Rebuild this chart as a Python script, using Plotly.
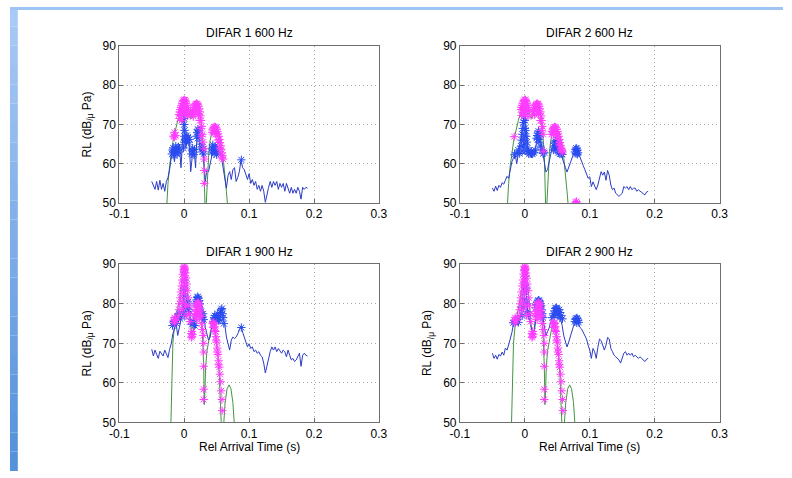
import numpy as np
import plotly.graph_objects as go

# ---------------- data ----------------
t_line = np.round(np.arange(97) * 0.0025 - 0.05, 4)

rl_d1_600 = [55.5, 54.5, 53.5, 55.5, 53.3, 55.8, 53.5, 55.0, 53.0, 55.5,
             56.5, 58.5, 61.5, 63.0, 60.5, 64.0, 62.0, 65.0, 59.0, 66.0,
             74.0, 64.0, 67.0, 66.0, 58.0, 62.0, 64.0, 59.0, 68.5, 67.0,
             63.0, 64.0, 61.0, 55.5, 58.5, 58.0, 60.0, 62.0, 64.0, 63.0,
             65.0, 62.5, 63.0, 61.5, 59.0, 57.0, 53.8, 57.0, 58.0, 56.0,
             58.5, 59.0, 55.5, 56.5, 58.0, 61.0, 59.0, 58.5, 57.0, 56.0,
             57.5, 55.0, 56.0, 54.5, 55.5, 53.5, 54.5, 53.0, 54.5, 53.0,
             50.2, 52.5, 54.0, 55.5, 54.0, 55.5, 54.5, 55.5, 53.5, 55.0,
             54.0, 55.0, 53.0, 55.0, 53.5, 52.5, 54.0, 52.5, 53.5, 52.5,
             54.0, 53.0, 51.0, 54.0, 53.5, 54.0, 53.8]

rl_d2_600 = [53.8, 53.0, 54.3, 53.2, 54.5, 54.0, 55.2, 54.8, 55.8, 56.8,
             56.3, 58.5, 60.5, 61.5, 62.5, 60.0, 62.8, 65.0, 68.0, 71.0,
             73.0, 68.0, 64.0, 62.5, 61.5, 63.5, 62.0, 65.0, 67.5, 68.0,
             65.5, 63.5, 60.0, 57.9, 58.5, 60.5, 62.5, 64.5, 65.0, 65.5,
             64.3, 63.5, 63.0, 61.5, 60.0, 59.0, 57.9, 59.0, 60.0, 61.0,
             62.5, 63.0, 63.3, 62.8, 61.5, 60.5, 59.5, 58.5, 57.5, 56.3,
             56.7, 54.2, 55.4, 54.2, 53.4, 54.6, 56.3, 58.0, 57.1, 57.9,
             55.8, 58.3, 57.1, 54.6, 53.4, 53.8, 52.5, 52.1, 51.7, 52.1,
             52.5, 54.2, 53.8, 54.2, 53.4, 54.2, 53.4, 53.8, 53.8, 53.0,
             53.4, 53.0, 52.8, 52.3, 52.1, 52.8, 53.0]

rl_d1_900 = [68.5, 66.8, 68.3, 67.0, 66.2, 68.0, 67.5, 66.8, 68.3, 67.5,
             66.4, 68.5, 69.9, 72.4, 74.0, 75.0, 72.0, 74.5, 76.0, 77.5,
             86.0, 82.0, 79.7, 78.5, 74.8, 75.5, 75.5, 73.8, 77.7, 81.4,
             80.5, 79.0, 77.3, 74.0, 72.4, 70.8, 71.6, 74.0, 76.5, 77.2,
             76.5, 77.0, 78.0, 79.0, 76.5, 74.8, 71.6, 69.5, 68.3, 70.8,
             71.6, 71.2, 71.6, 72.4, 73.6, 74.4, 72.8, 71.6, 70.8, 69.1,
             69.9, 68.7, 69.1, 67.9, 68.3, 67.5, 67.9, 67.0, 66.6, 65.0,
             62.5, 64.2, 66.6, 67.9, 69.1, 68.3, 69.1, 67.9, 68.7, 67.9,
             67.5, 68.3, 67.9, 66.6, 68.3, 67.0, 65.8, 66.2, 65.4, 65.8,
             66.6, 67.5, 64.2, 67.0, 67.5, 67.0, 66.8]

rl_d2_900 = [67.5, 66.2, 67.0, 66.0, 67.2, 66.8, 67.8, 67.0, 68.8, 68.3,
             69.6, 71.0, 72.7, 74.9, 75.5, 75.1, 74.5, 76.4, 78.5, 83.0,
             87.0, 82.0, 77.5, 75.5, 73.5, 72.3, 73.5, 77.5, 80.5, 80.9,
             80.0, 76.8, 74.4, 71.9, 73.0, 73.9, 75.5, 77.1, 77.9, 78.3,
             77.9, 77.5, 76.2, 74.5, 71.9, 70.3, 69.1, 70.3, 71.5, 73.1,
             74.4, 76.0, 76.0, 75.2, 74.0, 73.6, 72.7, 71.9, 71.1, 69.5,
             68.3, 66.2, 68.7, 67.9, 66.2, 69.0, 71.1, 70.7, 69.5, 68.3,
             69.5, 71.5, 71.1, 68.7, 67.9, 67.0, 66.6, 66.2, 65.8, 65.0,
             66.2, 67.5, 67.9, 67.0, 67.5, 67.0, 67.5, 66.6, 67.0, 66.6,
             66.2, 66.6, 66.2, 65.8, 65.4, 66.0, 66.2]

# model (green) curves
g600_t = [-0.030, -0.027, -0.025, -0.0225, -0.020, -0.0175, -0.015, -0.0125, -0.010, -0.0075,
          -0.005, -0.0025, 0.0, 0.0025, 0.005, 0.0075, 0.010, 0.0125, 0.015, 0.0175,
          0.020, 0.0225, 0.025, 0.0275, 0.030, 0.032, 0.033, 0.0335, 0.034, 0.036,
          0.038, 0.040, 0.0425, 0.045, 0.0475, 0.050, 0.0525, 0.055, 0.0575, 0.060,
          0.0625, 0.065, 0.0665, 0.068]
g600_v = [40, 50, 55, 59.5, 63, 65.5, 67.5, 69.5, 71, 72.5,
          74, 75.5, 76.3, 75.8, 74.5, 72.5, 71.5, 72.5, 74, 75,
          75.3, 74.5, 72, 68, 62, 50, 40, 40, 50, 58,
          63, 66, 68, 69, 69.4, 69, 68, 66.5, 64.5, 61.5,
          58, 53, 50, 40]

g900_t = [-0.022, -0.0205, -0.019, -0.0175, -0.015, -0.0125, -0.010, -0.0075, -0.005, -0.0025,
          0.0, 0.0025, 0.005, 0.0075, 0.010, 0.012, 0.014, 0.016, 0.018, 0.020,
          0.022, 0.024, 0.026, 0.028, 0.030, 0.031, 0.032, 0.033, 0.035, 0.038,
          0.041, 0.044, 0.046, 0.048, 0.050, 0.052, 0.054, 0.056, 0.058, 0.059,
          0.0595, 0.061, 0.063, 0.066, 0.069, 0.072, 0.075, 0.077, 0.078]
g900_v = [40, 50, 62, 70, 74.5, 76.5, 78.5, 81, 84, 87.5,
          89.3, 87.5, 83.5, 78.5, 74, 72, 73, 76, 78.5, 80,
          80.3, 79.5, 77, 72.5, 64, 54.5, 58, 64, 68, 71,
          73.5, 75, 75, 73, 70, 66.5, 62, 57, 50, 40,
          40, 50, 55, 58.5, 59.5, 58.5, 55, 50, 40]

# magenta star picks
m_d1_600_t = [-0.0165, -0.015, -0.0135, -0.015,
              -0.008, -0.007, -0.006, -0.005, -0.004, -0.003, -0.002, -0.001, 0.0, 0.001,
              0.002, 0.003, 0.004, 0.005, 0.006, 0.007, -0.007, -0.005, -0.003, -0.001,
              0.001, 0.003, 0.005, 0.0, -0.004,
              0.012, 0.013, 0.014, 0.015, 0.016, 0.017, 0.018, 0.019, 0.020, 0.021,
              0.022, 0.023, 0.024, 0.025, 0.026, 0.027, 0.028, 0.029, 0.014, 0.017,
              0.020, 0.022, 0.024, 0.026, 0.027,
              0.0305, 0.031, 0.031, 0.031,
              0.043, 0.044, 0.045, 0.046, 0.047, 0.048, 0.049, 0.050, 0.051, 0.052,
              0.053, 0.054, 0.055, 0.056, 0.057, 0.058, 0.059, 0.060, 0.046, 0.049,
              0.052, 0.055, 0.058]
m_d1_600_v = [67.0, 68.0, 67.2, 66.8,
              72.5, 73.2, 73.8, 74.3, 74.8, 75.3, 75.8, 76.1, 76.3, 76.2,
              75.9, 75.4, 74.9, 74.3, 73.5, 72.8, 71.5, 72.3, 73.0, 74.0,
              74.2, 73.3, 72.2, 72.5, 71.0,
              72.5, 73.2, 73.8, 74.3, 74.7, 75.0, 75.2, 75.3, 75.2, 75.0,
              74.6, 74.0, 73.2, 72.2, 71.0, 69.5, 67.5, 65.5, 72.0, 73.0,
              73.5, 72.5, 71.0, 69.0, 67.0,
              63.8, 61.2, 58.3, 55.0,
              68.0, 68.6, 69.0, 69.3, 69.4, 69.3, 69.1, 68.7, 68.2, 67.6,
              67.0, 66.2, 65.4, 64.6, 63.7, 62.8, 62.0, 61.2, 67.8, 67.5,
              66.0, 64.0, 61.5]

m_d2_600_t = [-0.0165,
              -0.006, -0.005, -0.004, -0.003, -0.002, -0.001, 0.0, 0.001, 0.002, 0.003,
              0.004, 0.005, 0.006, -0.005, -0.003, -0.001, 0.001, 0.003, 0.005, 0.0,
              0.012, 0.013, 0.014, 0.015, 0.016, 0.017, 0.018, 0.019, 0.020, 0.021,
              0.022, 0.023, 0.024, 0.025, 0.026, 0.027, 0.028, 0.015, 0.018, 0.021,
              0.024, 0.026,
              0.029,
              0.041, 0.042, 0.043, 0.044, 0.045, 0.046, 0.047, 0.048, 0.049, 0.050,
              0.051, 0.052, 0.053, 0.054, 0.055, 0.056, 0.057, 0.058, 0.044, 0.047,
              0.050, 0.053, 0.056,
              0.0785, 0.080, 0.0795]
m_d2_600_v = [66.9,
              73.8, 74.3, 74.8, 75.3, 75.8, 76.1, 76.3, 76.2, 75.9, 75.4,
              74.9, 74.3, 73.5, 72.3, 73.0, 74.0, 74.2, 73.3, 72.0, 72.5,
              72.5, 73.2, 73.8, 74.3, 74.7, 75.0, 75.2, 75.3, 75.2, 75.0,
              74.6, 74.0, 73.2, 72.2, 71.0, 69.5, 67.5, 72.5, 73.5, 72.8,
              71.0, 68.5,
              63.2,
              67.5, 68.2, 68.6, 69.0, 69.3, 69.4, 69.3, 69.1, 68.7, 68.2,
              67.6, 67.0, 66.2, 65.4, 64.6, 63.9, 63.4, 63.0, 67.5, 67.8,
              66.8, 65.0, 63.5,
              50.2, 50.0, 50.4]

m_900_t = [-0.016, -0.015, -0.014, -0.015, -0.013,
           -0.007, -0.006, -0.005, -0.004, -0.003, -0.002, -0.001, 0.0, 0.001, 0.002,
           0.003, 0.004, 0.005, 0.006, 0.007, -0.008, -0.009, 0.008, 0.009, 0.0,
           -0.001, 0.001, 0.0, -0.002, 0.002, -0.003, 0.003, 0.0, -0.0005, 0.0005,
           0.011, 0.012, 0.013, 0.012, 0.011,
           0.016, 0.017, 0.018, 0.019, 0.020, 0.021, 0.022, 0.023, 0.024, 0.025,
           0.026, 0.027, 0.028, 0.018, 0.020, 0.022, 0.024, 0.019, 0.021,
           0.0295, 0.030, 0.030, 0.030, 0.030, 0.030,
           0.044, 0.045, 0.046, 0.047, 0.048, 0.049, 0.050, 0.051, 0.052, 0.053,
           0.054, 0.055, 0.056, 0.057, 0.058, 0.0585, 0.045, 0.047, 0.049, 0.051,
           0.053]
m_900_v = [75.8, 76.5, 76.0, 75.2, 75.8,
           80.0, 81.5, 83.0, 84.5, 86.0, 87.5, 88.6, 89.3, 88.8, 87.8,
           86.5, 85.0, 83.3, 81.5, 79.5, 78.5, 77.0, 77.5, 75.5, 87.0,
           85.5, 84.0, 82.5, 80.5, 79.5, 78.5, 77.0, 88.5, 89.5, 89.0,
           72.5, 71.8, 72.3, 73.0, 71.5,
           77.0, 78.0, 79.0, 79.7, 80.1, 80.3, 80.2, 79.8, 79.0, 78.0,
           76.8, 75.0, 73.5, 77.5, 78.5, 78.5, 77.0, 76.0, 77.0,
           72.0, 70.0, 67.8, 64.2, 58.4, 55.8,
           75.0, 75.3, 75.0, 74.2, 73.0, 71.7, 70.3, 68.8, 67.2, 65.6,
           64.0, 62.2, 60.3, 58.0, 55.8, 53.0, 74.0, 73.2, 70.8, 67.8,
           64.6]

# blue star picks
b_d1_600_t = [-0.019, -0.018, -0.017, -0.016, -0.015, -0.014, -0.013, -0.012, -0.011, -0.010,
              -0.009, -0.008,
              -0.001, 0.0, 0.0, 0.0005, 0.0, 0.0, 0.0, -0.0005, 0.001,
              0.003, 0.004, 0.005, 0.006, 0.007, 0.008,
              0.011, 0.012, 0.013, 0.014, 0.015, 0.016,
              0.019, 0.020, 0.021, 0.022, 0.023, 0.021,
              0.026, 0.027, 0.028, 0.029, 0.030,
              0.042, 0.043, 0.044, 0.045, 0.046, 0.047, 0.048, 0.049, 0.050, 0.051,
              0.088]
b_d1_600_v = [62.5, 63.5, 64.0, 63.0, 62.0, 63.2, 64.5, 63.8, 62.5, 63.5,
              64.3, 63.0,
              64.0, 65.5, 67.0, 68.5, 70.0, 71.5, 73.0, 74.0, 66.0,
              66.5, 67.2, 66.0, 66.8, 65.5, 66.2,
              62.5, 63.5, 64.0, 63.0, 62.3, 63.6,
              67.0, 68.0, 68.8, 68.5, 67.5, 66.5,
              65.0, 64.0, 63.0, 63.8, 62.5,
              63.0, 64.0, 64.8, 63.5, 62.5, 63.8, 64.5, 63.2, 62.3, 63.0,
              61.0]

b_d2_600_t = [-0.016, -0.012, -0.010, -0.008, -0.006, -0.005, -0.004, -0.003, -0.002, -0.001,
              0.0, 0.0, 0.001, 0.002, 0.003, 0.004, 0.005, 0.006, 0.008, 0.010,
              0.012, 0.014, 0.016, -0.004, -0.002, 0.002, 0.0, 0.0, 0.0, -0.001,
              0.018, 0.019, 0.020, 0.021, 0.022, 0.023, 0.020, 0.022, 0.024, 0.026,
              0.028, 0.030,
              0.044, 0.045, 0.046, 0.047, 0.048, 0.049, 0.050, 0.051, 0.052, 0.054,
              0.056, 0.058, 0.047, 0.050,
              0.077, 0.078, 0.079, 0.080, 0.081, 0.082, 0.079, 0.081]
b_d2_600_v = [62.3, 62.8, 63.5, 62.6, 64.5, 66.0, 67.5, 69.0, 70.5, 72.0,
              73.5, 71.0, 68.5, 67.0, 65.5, 64.0, 63.0, 62.5, 62.7, 63.2,
              62.5, 62.8, 63.5, 63.2, 64.5, 63.3, 65.0, 67.0, 69.0, 66.0,
              66.5, 67.2, 67.8, 68.3, 67.6, 66.8, 66.2, 65.5, 64.5, 63.5,
              62.6, 62.8,
              63.5, 64.5, 65.3, 65.8, 65.5, 64.8, 64.0, 63.3, 62.8, 62.5,
              62.6, 62.4, 63.8, 66.0,
              63.0, 63.6, 64.0, 63.8, 63.4, 62.8, 62.6, 62.4]

b_d1_900_t = [-0.018, -0.016, -0.014, -0.012, -0.010, -0.008, -0.006,
              -0.002, -0.001, 0.0, 0.0, 0.001, 0.0, 0.002, 0.001,
              0.005, 0.006, 0.007, 0.008,
              0.010, 0.012, 0.014, 0.016,
              0.018, 0.019, 0.020, 0.021, 0.022, 0.023, 0.024, 0.021,
              0.026, 0.027, 0.028, 0.029, 0.030,
              0.045, 0.046, 0.047, 0.048, 0.049, 0.050, 0.051, 0.052, 0.053, 0.054,
              0.055, 0.056, 0.057, 0.058, 0.059, 0.060, 0.061,
              0.088]
b_d1_900_v = [74.5, 75.5, 76.0, 75.0, 76.8, 77.5, 76.2,
              78.0, 80.0, 82.0, 84.0, 86.0, 88.0, 79.0, 77.0,
              79.5, 80.5, 78.5, 77.5,
              75.5, 74.8, 75.6, 74.5,
              80.0, 81.0, 81.6, 81.8, 81.4, 80.8, 80.0, 80.5,
              78.0, 77.0, 76.5, 77.5, 76.0,
              75.5, 76.5, 77.0, 76.3, 75.5, 76.8, 77.5, 76.5, 75.8, 76.0,
              77.0, 77.8, 78.5, 78.8, 77.5, 76.5, 75.0,
              74.0]

b_d2_900_t = [-0.018, -0.016, -0.014, -0.012, -0.010,
              -0.004, -0.002, -0.001, 0.0, 0.0, 0.001, 0.0, 0.003, 0.004, 0.006, 0.002,
              0.017, 0.018, 0.019, 0.020, 0.021, 0.022, 0.023, 0.024, 0.025, 0.026,
              0.027, 0.028, 0.020, 0.023,
              0.042, 0.044, 0.046, 0.047, 0.048, 0.049, 0.050, 0.051, 0.052, 0.053,
              0.054, 0.056, 0.058, 0.046, 0.050, 0.054,
              0.077, 0.078, 0.079, 0.080, 0.081, 0.082, 0.083, 0.080]
b_d2_900_v = [75.2, 75.8, 75.5, 76.0, 75.3,
              77.0, 79.0, 81.0, 83.0, 85.0, 87.0, 88.5, 80.0, 78.0, 77.0, 84.0,
              79.0, 79.8, 80.3, 80.7, 80.9, 80.8, 80.5, 80.0, 79.5, 78.5,
              77.5, 76.5, 79.5, 79.3,
              76.5, 77.5, 78.2, 78.8, 79.0, 78.9, 78.6, 78.0, 77.8, 78.5,
              77.8, 77.0, 76.2, 77.0, 77.2, 76.5,
              75.5, 76.0, 76.3, 76.4, 76.2, 75.8, 75.3, 75.2]

titles = ["DIFAR 1 600 Hz", "DIFAR 2 600 Hz", "DIFAR 1 900 Hz", "DIFAR 2 900 Hz"]
x_ticks = [-0.1, 0, 0.1, 0.2, 0.3]
x_tick_text = ["-0.1", "0", "0.1", "0.2", "0.3"]
y_ticks = [50, 60, 70, 80, 90]

# ---------------- styling ----------------
W, H = 792, 478
FONT = "Liberation Sans, Arial, sans-serif"
C_LINE = "#2b3bc4"
C_GREEN = "#449444"
C_BSTAR = "#2a4cf0"
C_MAG = "#ff3cff"

# plot boxes in pixels: (left, right, top, bottom)
boxes = [(112, 378, 40, 202), (461, 727, 40, 202),
         (112, 378, 265, 428), (461, 727, 265, 428)]

panels = [
    (rl_d1_600, g600_t, g600_v, b_d1_600_t, b_d1_600_v, m_d1_600_t, m_d1_600_v),
    (rl_d2_600, g600_t, g600_v, b_d2_600_t, b_d2_600_v, m_d2_600_t, m_d2_600_v),
    (rl_d1_900, g900_t, g900_v, b_d1_900_t, b_d1_900_v, m_900_t, m_900_v),
    (rl_d2_900, g900_t, g900_v, b_d2_900_t, b_d2_900_v, m_900_t, m_900_v),
]

fig = go.Figure()
layout = dict(
    width=W, height=H, autosize=False,
    margin=dict(l=0, r=0, t=0, b=0),
    paper_bgcolor="white", plot_bgcolor="white",
    showlegend=False,
    font=dict(family=FONT, size=12, color="black"),
)

annotations = []
shapes = []

for i, (rl, gt, gv, bt, bv, mt, mv) in enumerate(panels):
    n = i + 1
    xa = "x" if n == 1 else f"x{n}"
    ya = "y" if n == 1 else f"y{n}"
    fig.add_trace(go.Scatter(x=gt, y=gv, mode="lines", xaxis=xa, yaxis=ya,
                             line=dict(color=C_GREEN, width=1)))
    fig.add_trace(go.Scatter(x=t_line, y=rl, mode="lines", xaxis=xa, yaxis=ya,
                             line=dict(color=C_LINE, width=1)))
    fig.add_trace(go.Scatter(x=bt, y=bv, mode="markers", xaxis=xa, yaxis=ya,
                             marker=dict(symbol="asterisk-open", size=7, color=C_BSTAR,
                                         line=dict(color=C_BSTAR, width=1))))
    fig.add_trace(go.Scatter(x=mt, y=mv, mode="markers", xaxis=xa, yaxis=ya,
                             marker=dict(symbol="asterisk-open", size=7, color=C_MAG,
                                         line=dict(color=C_MAG, width=1))))
    l, r, t, b = boxes[i]
    xdom = [l / W, r / W]
    ydom = [1 - b / H, 1 - t / H]
    axis_common = dict(showline=True, mirror=True, linecolor="#6e6e6e", linewidth=1,
                       ticks="inside", ticklen=4, tickcolor="#6e6e6e",
                       showgrid=True, gridcolor="#a8a8a8", griddash="1px,3px", gridwidth=1,
                       zeroline=False, tickfont=dict(family=FONT, size=12, color="black"))
    layout["xaxis" if n == 1 else f"xaxis{n}"] = dict(
        domain=xdom, range=[-0.1, 0.3], anchor=ya, tickvals=x_ticks, ticktext=x_tick_text,
        **axis_common)
    layout["yaxis" if n == 1 else f"yaxis{n}"] = dict(
        domain=ydom, range=[50, 90], anchor=xa, tickvals=y_ticks, **axis_common)
    cx = (l + r) / 2 / W
    annotations.append(dict(text=titles[i], x=cx, y=1 - (t - 13) / H, xref="paper", yref="paper",
                            xanchor="center", yanchor="middle",
                            showarrow=False, font=dict(size=12, family=FONT)))
    if n in (1, 3, 4):
        lx = 80 if n != 4 else 429
        annotations.append(dict(text="RL (dB<sub>/μ</sub> Pa)", x=lx / W, y=1 - (t + b) / 2 / H,
                                xref="paper", yref="paper", xanchor="center", yanchor="middle",
                                showarrow=False, textangle=-90,
                                font=dict(size=12, family=FONT)))
    if n in (3, 4):
        annotations.append(dict(text="Rel Arrival Time (s)", x=cx, y=1 - 453 / H,
                                xref="paper", yref="paper", xanchor="center", yanchor="middle",
                                showarrow=False, font=dict(size=12, family=FONT)))

# blue frame strips (gradient) on left and top
steps = 24
top_c = np.array([168, 202, 246])
bot_c = np.array([86, 146, 218])
for k in range(steps):
    c = top_c + (bot_c - top_c) * k / (steps - 1)
    shapes.append(dict(type="rect", xref="paper", yref="paper",
                       x0=0, x1=8 / W, y0=1 - (k + 1) / steps, y1=1 - k / steps,
                       fillcolor=f"rgb({int(c[0])},{int(c[1])},{int(c[2])})",
                       line=dict(width=0), layer="below"))
shapes.append(dict(type="rect", xref="paper", yref="paper", x0=0, x1=1,
                   y0=1 - 3 / H, y1=1, fillcolor="rgb(158,196,245)",
                   line=dict(width=0), layer="below"))

layout["annotations"] = annotations
layout["shapes"] = shapes
fig.update_layout(**layout)
fig.write_html("out.html")
